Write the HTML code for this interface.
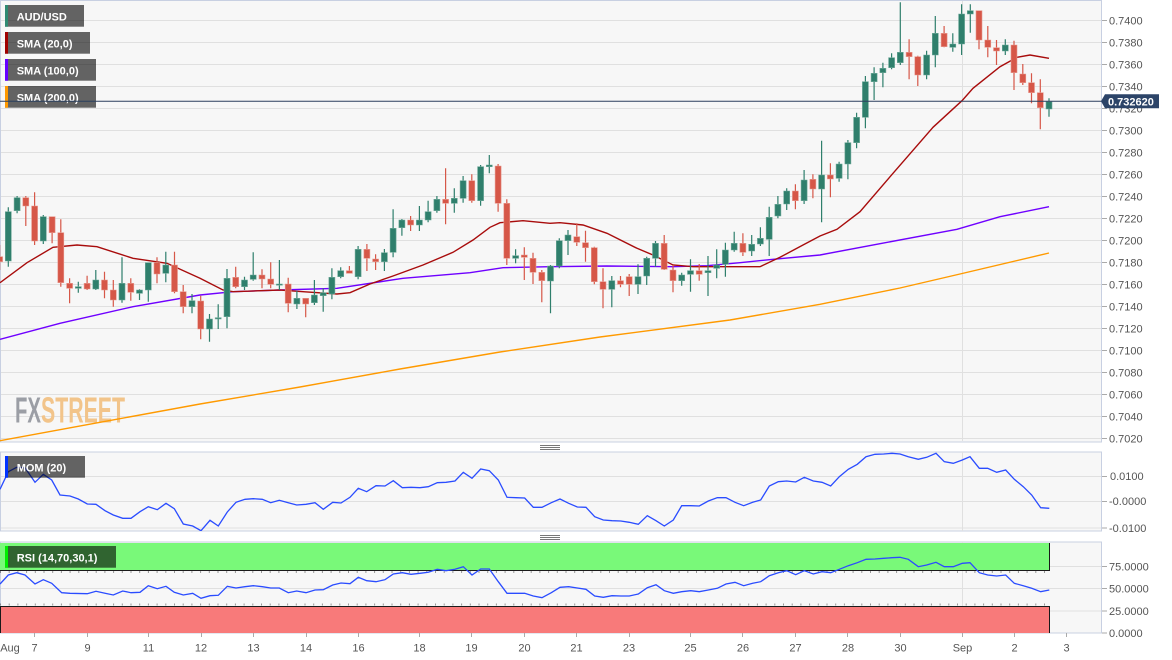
<!DOCTYPE html>
<html>
<head>
<meta charset="utf-8">
<style>
html,body{margin:0;padding:0;background:#fff;}
svg{display:block;font-family:"Liberation Sans",Arial,sans-serif;}
.ax{font-size:11px;fill:#555;}
.lg{font-size:11px;fill:#fff;font-weight:bold;}
</style>
</head>
<body>
<svg width="1172" height="660" viewBox="0 0 1172 660" xmlns="http://www.w3.org/2000/svg">
<defs>
<clipPath id="cm"><rect x="0" y="0" width="1101" height="442"/></clipPath>
<clipPath id="cmom"><rect x="0" y="452" width="1101" height="79"/></clipPath>
<clipPath id="crsi"><rect x="0" y="542" width="1101" height="91"/></clipPath>
</defs>
<rect x="0" y="0" width="1172" height="660" fill="#fff"/>

<!-- MAIN PANEL -->
<rect x="0.5" y="0.5" width="1101" height="441.5" fill="#f7f7f7" stroke="#c8d0e2"/>
<g stroke="#e0e0e0" stroke-width="1">
<path d="M1 20.5H1101M1 42.5H1101M1 64.5H1101M1 86.5H1101M1 108.5H1101M1 130.5H1101M1 152.5H1101M1 174.5H1101M1 196.5H1101M1 218.5H1101M1 240.5H1101M1 262.5H1101M1 284.5H1101M1 306.5H1101M1 328.5H1101M1 350.5H1101M1 372.5H1101M1 394.5H1101M1 416.5H1101M1 438.5H1101"/>
<path d="M962.5 1V441M962.5 452V531M962.5 542V633"/>
</g>

<!-- watermark -->
<text x="15" y="422.7" font-size="36" font-weight="bold" fill="#9b9ea5" textLength="26" lengthAdjust="spacingAndGlyphs">FX</text>
<text x="41" y="422.7" font-size="36" font-weight="bold" fill="#f2c48a" textLength="84" lengthAdjust="spacingAndGlyphs">STREET</text>

<g clip-path="url(#cm)">
<!-- SMA200 -->
<polyline fill="none" stroke="#ff9a00" stroke-width="1.4" points="0,440.7 100,422.3 200,404 300,387 400,369 500,352 600,337 730,320 820,304.3 900,288 960,274 1049,253"/>
<!-- SMA100 -->
<polyline fill="none" stroke="#6f00ff" stroke-width="1.4" points="0,339.3 60,323.3 133,306.7 200,295 233,291.7 280,290 337,288.3 403,278.3 470,272.7 503,267.7 550,266.7 607,266 673,266.7 707,265.7 740,262.7 773,259.3 820,255 880,243.7 957,229.3 1000,216.7 1049,206.7"/>
<!-- SMA20 -->
<polyline fill="none" stroke="#a80c0c" stroke-width="1.4" points="0,282.7 27,262.7 53,247.3 77,245 97,246.7 133,258.3 167,263.3 200,278.3 223,290 233,291.7 280,290 303,291.7 337,294 350,292.7 370,284 393,276 423,265 453,252.3 473,240 490,227.3 500,222.7 523,220.7 550,223.3 560,222.7 583,225 607,233.3 637,248.3 653,255 673,265 693,266.7 727,266.7 760,266.7 780,257.3 803,245 820,236 837,229.3 860,211.7 893,173.3 933,127.3 962,100.7 973,88.3 1000,66.7 1017,57.3 1030,55 1049,58.3"/>

<!-- green wicks -->
<path fill="none" stroke="#2f7f6c" stroke-width="1.2" d="M8.3 207.3V266.7M17.1 196V213.3M43.3 215V244M78.3 281.7V292.7M95.8 270V290M122 257.3V302.7M139.5 289.3V300M148.3 262.7V301.7M165.8 251.7V282.3M192 294V313.3M209.5 314V341.7M218.2 304.3V329M227 269V328.3M244.5 276.7V290M253.2 252.3V280.7M279.4 260V290M296.9 290.7V309M314.4 280V305M323.2 288.3V311.7M331.9 268.3V299.3M340.7 267.3V278.3M358.1 246V279.3M384.4 249V271M393.1 209.3V257.3M401.9 219V235.7M419.4 206V231M428.1 200.7V222.3M436.9 196V212.7M454.3 188.3V212.7M463.1 176V202.7M480.6 165V205.7M489.3 155V173.3M515.6 249.3V263.3M550.5 265V313.3M559.3 238.3V268.3M568 230V255M611.8 276V307.3M638 264.3V294M646.7 256.7V285M655.5 241V266.7M681.7 272.7V285.7M690.5 259.3V291.7M708 256V296M716.7 249.3V278.3M725.4 242.7V276.7M734.2 231.7V251.7M751.7 235V256M760.4 227.3V246M769.2 206.7V256M777.9 196V218.3M786.7 188.3V210M804.1 170V204M821.6 140.7V222.3M839.1 161.7V181.7M847.9 140V179.3M856.6 112.7V148.3M865.4 76V128.3M874.1 67.3V100M882.9 62.7V87.3M891.6 53.3V69.3M900.3 2.3V65M926.6 50.7V79.3M935.3 16V67.3M952.8 33.3V51.7M961.6 4.3V55M970.3 4.3V32.7M1005.3 39.3V55M1049 98.3V116.7"/>
<!-- green bodies -->
<path fill="#2f7f6c" stroke="#6fa999" stroke-width="0.6" d="M5.3 211.7h6V261h-6zM14.1 197.7h6V210.7h-6zM40.3 216.7h6V241h-6zM75.3 286.7h6V288.3h-6zM92.8 280h6V289h-6zM119 283.3h6V300h-6zM136.5 290h6V293.3h-6zM145.3 262.7h6V290h-6zM162.8 265h6V273.3h-6zM189 300.7h6V306.7h-6zM206.5 319h6V329h-6zM215.2 317.7h6V318.9h-6zM224 278.3h6V316.7h-6zM241.5 280h6V286.7h-6zM250.2 275h6V279.3h-6zM276.4 284h6V285.2h-6zM293.9 298.3h6V304h-6zM311.4 295h6V302.7h-6zM320.2 292.7h6V295.7h-6zM328.9 277.3h6V294h-6zM337.7 270.7h6V276.7h-6zM355.1 249.3h6V276.7h-6zM381.4 252.7h6V261.7h-6zM390.1 228.3h6V252.3h-6zM398.9 220h6V227.7h-6zM416.4 220h6V225h-6zM425.1 211.7h6V220h-6zM433.9 199.3h6V210.7h-6zM451.3 198.3h6V203.3h-6zM460.1 180.7h6V198.3h-6zM477.6 166.7h6V200.7h-6zM486.3 165h6V166.7h-6zM512.6 255.7h6V258.3h-6zM547.5 266h6V281h-6zM556.3 240.7h6V266h-6zM565 235h6V240.7h-6zM608.8 280.7h6V289.3h-6zM635 276.7h6V284.3h-6zM643.7 258.3h6V276h-6zM652.5 243.3h6V258.3h-6zM678.7 275h6V280.7h-6zM687.5 270.7h6V274.3h-6zM705 270.7h6V272.7h-6zM713.7 265h6V268.3h-6zM722.4 250h6V264.3h-6zM731.2 243.3h6V250h-6zM748.7 244.3h6V251h-6zM757.4 238.3h6V244h-6zM766.2 217.3h6V239.3h-6zM774.9 204.3h6V216h-6zM783.7 191h6V204h-6zM801.1 180h6V200.7h-6zM818.6 175h6V189h-6zM836.1 164h6V178.3h-6zM844.9 142.7h6V164h-6zM853.6 117.3h6V142.7h-6zM862.4 81.7h6V117.3h-6zM871.1 73.3h6V81.7h-6zM879.9 68.3h6V72.7h-6zM888.6 57.7h6V67.7h-6zM897.3 52.3h6V62.7h-6zM923.6 55h6V75h-6zM932.3 33.3h6V55h-6zM949.8 44h6V47.3h-6zM958.6 14h6V44h-6zM967.3 10.7h6V14h-6zM1002.3 45h6V51h-6zM1046 101.7h6V109h-6z"/>
<!-- red wicks -->
<path fill="none" stroke="#d65748" stroke-width="1.2" d="M-0.4 245V270M25.8 196V226M34.6 192.3V245M52.1 216.7V243.3M60.8 219.3V286.7M69.6 278.3V303.3M87.1 275.7V290M104.5 271.7V298.3M113.3 280V306.7M130.8 278.3V300.7M157 257.3V283.3M174.5 251.7V293.3M183.2 285V313.3M200.7 295.7V339.3M235.7 266.7V288.3M262 269.3V288.3M270.7 262.3V288.3M288.2 277.7V312.3M305.7 298.3V317.3M349.4 266V273.3M366.9 244V271M375.6 254.3V270M410.6 216V231M445.6 168.3V224.3M471.8 174.3V202.7M498.1 164V211.7M506.8 199.3V265M524.3 247.3V280M533 252.7V284M541.8 270V302.3M576.8 223.3V246M585.5 230.7V261.7M594.3 246.7V284.3M603 268.3V308.3M620.5 276V287.3M629.2 274V296M664.2 235V270M673 265V292.3M699.2 264V280.7M742.9 233.3V256M795.4 184.3V209.3M812.9 174.3V198.3M830.4 163.3V197.3M909.1 39.3V79.3M917.8 55.7V86M944.1 26V47.3M979 10.7V49.3M987.8 26V57.3M996.5 40V65M1014 40.7V90M1022.8 64V85M1031.5 73.3V103.3M1040.3 79.3V129.3"/>
<!-- red bodies -->
<path fill="#d65748" stroke="#e89a90" stroke-width="0.6" d="M-3.4 256.7h6V261.7h-6zM22.8 197.7h6V206h-6zM31.6 206h6V241h-6zM49.1 216.7h6V232.7h-6zM57.8 232.7h6V282.7h-6zM66.6 283.3h6V288.3h-6zM84.1 283.3h6V289h-6zM101.5 280h6V290h-6zM110.3 290h6V300h-6zM127.8 283.3h6V292.3h-6zM154 262.7h6V274h-6zM171.5 265h6V291.7h-6zM180.2 291.7h6V306.7h-6zM197.7 301h6V329h-6zM232.7 277.3h6V286.7h-6zM259 275h6V279h-6zM267.7 279h6V284.3h-6zM285.2 284h6V303.3h-6zM302.7 298.3h6V304h-6zM346.4 270.7h6V273.3h-6zM363.9 249.3h6V258.3h-6zM372.6 259h6V261.7h-6zM407.6 220h6V225h-6zM442.6 199.3h6V203.3h-6zM468.8 180.7h6V200.7h-6zM495.1 166h6V203.3h-6zM503.8 203.3h6V258.3h-6zM521.3 255h6V257.3h-6zM530 258.3h6V272.3h-6zM538.8 272.3h6V280.7h-6zM573.8 236.7h6V242.3h-6zM582.5 242.7h6V247.7h-6zM591.3 247.7h6V281.7h-6zM600 281.7h6V289.3h-6zM617.5 280.7h6V284.3h-6zM626.2 276.7h6V284.3h-6zM661.2 243.3h6V269.3h-6zM670 270h6V280.7h-6zM696.2 270.7h6V274.3h-6zM739.9 243.3h6V252.3h-6zM792.4 191h6V200.7h-6zM809.9 179.3h6V189h-6zM827.4 175h6V179h-6zM906.1 52.3h6V56.7h-6zM914.8 56.7h6V75h-6zM941.1 33.3h6V46.7h-6zM976 10.7h6V40h-6zM984.8 40h6V47.3h-6zM993.5 47.7h6V51h-6zM1011 45h6V72.7h-6zM1019.8 74h6V82.7h-6zM1028.5 82.7h6V92.7h-6zM1037.3 92.7h6V107.7h-6z"/>
</g>

<!-- legends main -->
<g>
<rect x="5" y="5" width="79" height="21.7" fill="rgba(0,0,0,0.6)"/><rect x="5" y="5" width="3" height="21.7" fill="#2f8a72"/>
<text class="lg" x="16.7" y="20.5">AUD/USD</text>
<rect x="5" y="32" width="85" height="21.7" fill="rgba(0,0,0,0.6)"/><rect x="5" y="32" width="3" height="21.7" fill="#a00000"/>
<text class="lg" x="16.7" y="47.5">SMA (20,0)</text>
<rect x="5" y="59" width="91" height="21.7" fill="rgba(0,0,0,0.6)"/><rect x="5" y="59" width="3" height="21.7" fill="#6600ff"/>
<text class="lg" x="16.7" y="74.5">SMA (100,0)</text>
<rect x="5" y="86" width="91" height="21.7" fill="rgba(0,0,0,0.6)"/><rect x="5" y="86" width="3" height="21.7" fill="#ff9900"/>
<text class="lg" x="16.7" y="101.5">SMA (200,0)</text>
</g>

<!-- current price line -->
<path d="M0 101.2H1102" stroke="#2b3f5e" stroke-width="1"/>

<!-- main y axis -->
<g stroke="#aaa"><path d="M1102 20.5h5M1102 42.5h5M1102 64.5h5M1102 86.5h5M1102 108.5h5M1102 130.5h5M1102 152.5h5M1102 174.5h5M1102 196.5h5M1102 218.5h5M1102 240.5h5M1102 262.5h5M1102 284.5h5M1102 306.5h5M1102 328.5h5M1102 350.5h5M1102 372.5h5M1102 394.5h5M1102 416.5h5M1102 438.5h5"/></g>
<g class="ax">
<text x="1109" y="24.5">0.7400</text>
<text x="1109" y="46.5">0.7380</text>
<text x="1109" y="68.5">0.7360</text>
<text x="1109" y="90.5">0.7340</text>
<text x="1109" y="112.5">0.7320</text>
<text x="1109" y="134.5">0.7300</text>
<text x="1109" y="156.5">0.7280</text>
<text x="1109" y="178.5">0.7260</text>
<text x="1109" y="200.5">0.7240</text>
<text x="1109" y="222.5">0.7220</text>
<text x="1109" y="244.5">0.7200</text>
<text x="1109" y="266.5">0.7180</text>
<text x="1109" y="288.5">0.7160</text>
<text x="1109" y="310.5">0.7140</text>
<text x="1109" y="332.5">0.7120</text>
<text x="1109" y="354.5">0.7100</text>
<text x="1109" y="376.5">0.7080</text>
<text x="1109" y="398.5">0.7060</text>
<text x="1109" y="420.5">0.7040</text>
<text x="1109" y="442.5">0.7020</text>
</g>
<!-- price tag -->
<path d="M1101 101.2L1105 94.3H1159V108.3H1105Z" fill="#2c4468"/>
<text x="1108" y="105.4" font-size="11" font-weight="bold" fill="#fff">0.732620</text>

<!-- separator grips -->
<g stroke="#777" stroke-width="1">
<path d="M540 445.5h20M540 447.5h20M540 449.5h20"/>
<path d="M540 535.5h20M540 537.5h20M540 539.5h20"/>
</g>

<!-- MOM PANEL -->
<rect x="0.5" y="452" width="1101" height="79" fill="#f7f7f7" stroke="#c8d0e2"/>
<path d="M1 476.5H1101M1 501.5H1101M1 528H1101" stroke="#e0e0e0"/>
<path d="M962.5 452V531" stroke="#e0e0e0"/>
<g clip-path="url(#cmom)">
<polyline fill="none" stroke="#2a4cff" stroke-width="1.3" points="0,489.3 8.3,471.7 16.7,467.3 25,467.7 35,482.3 43.3,474.3 51.7,480 60,495 70,496 78.3,499 87.3,504 96,504.3 105,510.7 113.3,515 122.7,518.3 131,518.3 140,511.7 148.3,506.7 157.3,509.7 166,503.3 174.3,508.7 183.3,524 192.7,526 201,530.7 210,520.3 218.3,526 227.3,512 236,502.3 245,499.3 253.3,498.7 262.3,499.3 270.7,502.7 279.3,500.3 288.3,502.7 296.7,505 306,504.3 315,502.7 323.3,509.3 332.7,502.3 341,503 350,497.3 358.3,488.3 366.7,491.7 376,485.7 385,486 393.3,480.7 402.3,487.7 411,487.3 420,487.7 428.3,486.7 437.3,482.7 446,482.3 455,481 463.3,472.3 472,478.3 480.7,469 489.3,470.7 498.3,480 507,497.3 516,497.7 524.7,498 533.3,507.3 542,507.3 551.3,502.7 560,499 568.7,503.3 577.3,507 586,507.3 594.7,516.7 603.3,520 612,520.7 620.7,521 629.3,522.3 638.3,524.3 647.3,515.7 656,520.7 664.3,526 673.3,520 681.7,505.7 690.7,505.7 699.3,506 708.3,501 717.3,497.7 726,497.7 735,502.3 743.7,505.7 752.7,502.3 760.7,500 769.3,486 778.3,481.7 786.7,481 795.7,482 804.3,477.3 813.3,481 822,482.3 830.7,486 839.3,476.7 848.3,469.3 857.3,464.3 866,456.7 875,454.3 883.7,454 892,453.3 900,454 908.3,456.7 918.3,459.3 926.7,457.3 936,453.3 944.3,461.7 953.3,463.3 962.3,460 970,456.7 979.3,468.3 987.7,468.3 996.7,472.3 1005.7,470 1014.3,479.3 1023.3,486.7 1031.7,495 1040.7,507.7 1049.3,508.3"/>
</g>
<rect x="5" y="456" width="80" height="21.7" fill="rgba(0,0,0,0.6)"/><rect x="5" y="456" width="3" height="21.7" fill="#0033ff"/>
<text class="lg" x="16.7" y="471.5">MOM (20)</text>
<g stroke="#aaa"><path d="M1102 476.5h5M1102 501.5h5M1102 528h5"/></g>
<g class="ax">
<text x="1110" y="480">0.0100</text>
<text x="1109" y="505">-0.0000</text>
<text x="1109" y="532">-0.0100</text>
</g>

<!-- RSI PANEL -->
<rect x="0.5" y="542" width="1101" height="91" fill="#f7f7f7" stroke="#c8d0e2"/>
<path d="M1 566.5H1101M1 588.5H1101M1 611H1101" stroke="#e0e0e0"/>
<path d="M962.5 542V633" stroke="#e0e0e0"/>
<rect x="0" y="543" width="1049" height="27" fill="#79f979"/>
<rect x="0" y="606" width="1049" height="27" fill="#f87a7a"/>
<path d="M0 570.5H1049.5V543M0.5 633V606.5H1049.5V633" fill="none" stroke="#1a1a1a" stroke-width="1"/>
<path d="M0 572H1049M0 604.5H1049" stroke="#3a3a3a" stroke-width="2" stroke-dasharray="1 7.7" opacity="0.5"/>
<g clip-path="url(#crsi)">
<polyline fill="none" stroke="#2a4cff" stroke-width="1.3" points="0,584 8.3,575 16.7,572.7 25,575 35,584 43.3,579.7 51.7,583.3 61.7,592.7 70,593.3 87.3,593.7 96,591.3 105,593.3 113.3,595 122.7,591 131,592.7 140,592.3 148.3,585.7 157.3,588.7 166,586.3 174.3,592.3 183.3,595 192.7,593.3 201,598.3 210,595.7 218.3,595.3 227.3,586.3 236,588 245,586.7 253.3,585.7 262.3,586.7 270.7,588 279.3,588 288.3,592.7 296.7,591 306,592.7 315,590 323.3,589.7 332.7,585 341,583 350,583.7 358.3,577.3 366.7,580.7 376,581.7 385,579.7 393.3,574 402.3,572.7 411,574.3 420,573.3 428.3,572.3 437.3,569.3 446,570.7 455,569.3 463.3,566.7 472,575 480.7,569 489.3,569 498.3,581.7 507,593.3 516,593.3 524.7,593.3 533.3,596 542,597.7 551.3,592.7 560,587.3 568.7,586.7 577.3,588 586,589.3 594.7,596 603.3,597.3 612,595.7 620.7,596 629.3,596 638.3,594 647.3,587.7 656,584.7 664.3,590.7 673.3,593.3 681.7,591.7 690.7,590.7 699.3,591.7 708.3,590 717.3,588.3 726,584 735,582.3 743.7,585.7 752.7,583.3 760.7,581.7 769.3,575.7 778.3,572.7 786.7,570.7 795.7,574.7 804.3,570.7 813.3,574 822,571.7 830.7,572.7 839.3,569.3 848.3,565.7 857.3,562.7 866,559.3 875,559 883.7,558.3 892,557.7 900,557.3 908.3,559.3 918.3,566.7 926.7,565 936,562.3 944.3,566.7 953.3,566.7 962.3,563.3 970,562.7 979.3,572.7 987.7,575 996.7,576 1005.7,575 1014.3,583.3 1023.3,585.7 1031.7,588.3 1040.7,591.7 1049.3,590"/>
</g>
<rect x="5" y="546" width="111" height="21.7" fill="rgba(0,0,0,0.6)"/><rect x="5" y="546" width="3" height="21.7" fill="#00ee00"/>
<text class="lg" x="16.7" y="561.5">RSI (14,70,30,1)</text>
<g stroke="#aaa"><path d="M1102 566.5h5M1102 588.5h5M1102 611h5M1102 633h5"/></g>
<g class="ax">
<text x="1109" y="570.5">75.0000</text>
<text x="1109" y="592.5">50.0000</text>
<text x="1109" y="615">25.0000</text>
<text x="1109" y="637">0.0000</text>
</g>

<!-- X axis -->
<g stroke="#aaa"><path d="M34.5 633v4M87.5 633v4M148.5 633v4M201.5 633v4M253.5 633v4M306.5 633v4M358.5 633v4M419.5 633v4M471.5 633v4M524.5 633v4M576.5 633v4M629.5 633v4M690.5 633v4M742.5 633v4M795.5 633v4M847.5 633v4M900.5 633v4M962.5 633v4M1014.5 633v4M1066.5 633v4"/></g>
<g class="ax" text-anchor="middle">
<text x="10" y="651.5">Aug</text>
<text x="34.5" y="651.5">7</text>
<text x="87.5" y="651.5">9</text>
<text x="148.5" y="651.5">11</text>
<text x="201" y="651.5">12</text>
<text x="253.5" y="651.5">13</text>
<text x="306" y="651.5">14</text>
<text x="358.5" y="651.5">16</text>
<text x="419.5" y="651.5">18</text>
<text x="471.5" y="651.5">19</text>
<text x="524.5" y="651.5">20</text>
<text x="576.5" y="651.5">21</text>
<text x="629" y="651.5">23</text>
<text x="690.5" y="651.5">25</text>
<text x="743" y="651.5">26</text>
<text x="795.5" y="651.5">27</text>
<text x="848" y="651.5">28</text>
<text x="900.5" y="651.5">30</text>
<text x="962.5" y="651.5">Sep</text>
<text x="1014.5" y="651.5">2</text>
<text x="1066.5" y="651.5">3</text>
</g>
</svg>
</body>
</html>
